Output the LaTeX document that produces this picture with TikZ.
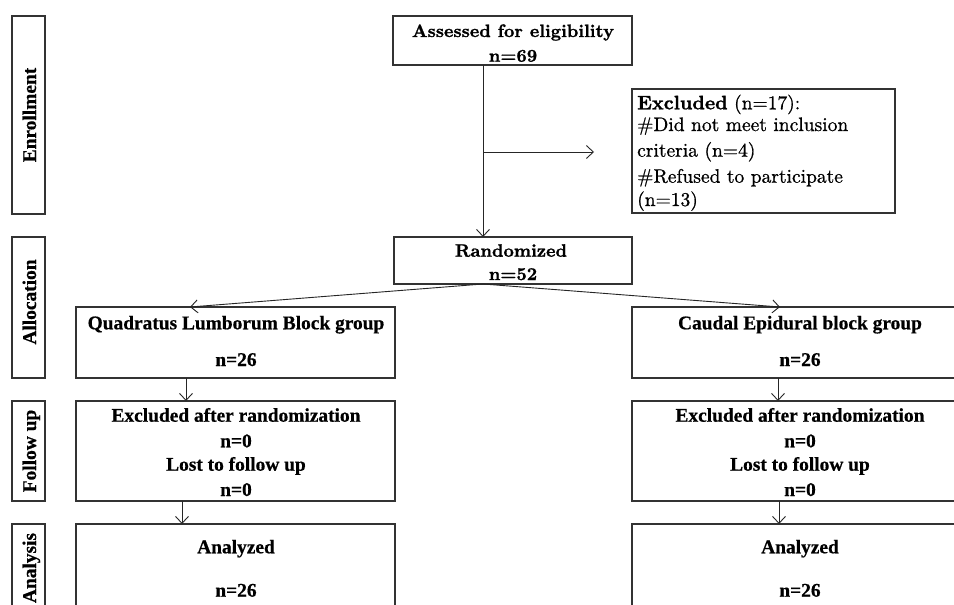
\documentclass[tikz,border=0pt]{standalone}
\usepackage{fontspec}
\newfontfamily\tnr{Liberation Serif}[BoldFeatures={FakeBold=0.6}]
\newfontfamily\lmb{lmroman10-bold}[Extension=.otf,FakeBold=1.2]
\newfontfamily\lmr{lmroman10-regular}[Extension=.otf,FakeBold=0.8,BoldFont=lmroman10-bold,BoldFeatures={FakeBold=1.2}]
\usetikzlibrary{arrows.meta}
\begin{document}
\begin{tikzpicture}[x=1pt,y=-1pt,
 box/.style={draw=black!80, line width=1.2pt, inner sep=0pt, outer sep=0pt, anchor=north west},
 arr/.style={draw=black!85, line width=0.9pt, -{Straight Barb[length=7pt,width=13pt]}},
 tb/.style={font=\tnr\bfseries\fontsize{19.4}{22}\selectfont, inner sep=0pt, anchor=base},
 cb/.style={font=\lmb\fontsize{18}{21}\selectfont, inner sep=0pt, anchor=base},
 cr/.style={font=\lmr\fontsize{19.5}{22}\selectfont, inner sep=0pt, anchor=base west},
 side/.style={tb, rotate=90},
]
\clip (0,0) rectangle (954,605);
\fill[white] (0,0) rectangle (954,605);

% side boxes
\node[box, minimum width=33pt, minimum height=198pt] (enr) at (12,16) {};
\node[box, minimum width=33pt, minimum height=141pt] (alc) at (12,237) {};
\node[box, minimum width=33pt, minimum height=100pt] (fup) at (12,401) {};
\node[box, minimum width=33pt, minimum height=90pt] (ana) at (12,524) {};
\node[side] (tenr) at (36,115) {Enrollment};
\node[side] (talc) at (36,302) {Allocation};
\node[side] (tfup) at (36,451) {Follow up};
\node[side] (tana) at (36,568) {Analysis};

% top boxes
\node[box, minimum width=239pt, minimum height=49pt] (assess) at (393,16) {};
\node[cb] (ta1) at (513,37) {Assessed for eligibility};
\node[cb] (ta2) at (513,61.7) {n=69};

\node[box, minimum width=263pt, minimum height=124pt] (excl) at (632,89) {};
\node[cr] (te1) at (637,109.3) {\textbf{Excluded} (n=17):};
\node[cr] (te2) at (637,131) {\#Did not meet inclusion};
\node[cr] (te3) at (637,156.7) {criteria (n=4)};
\node[cr] (te4) at (637,182.7) {\#Refused to participate};
\node[cr] (te5) at (637,206) {(n=13)};

\node[box, minimum width=238pt, minimum height=47pt] (rand) at (394,237) {};
\node[cb] (tr1) at (511,256.7) {Randomized};
\node[cb] (tr2) at (513,280) {n=52};

% group boxes
\node[box, minimum width=319pt, minimum height=71pt] (ql) at (76,307) {};
\node[box, minimum width=336pt, minimum height=71pt] (ce) at (632,307) {};
\node[box, minimum width=319pt, minimum height=100pt] (fu1) at (76,401) {};
\node[box, minimum width=336pt, minimum height=100pt] (fu2) at (632,401) {};
\node[box, minimum width=319pt, minimum height=100pt] (an1) at (76,524) {};
\node[box, minimum width=336pt, minimum height=100pt] (an2) at (632,524) {};

\foreach \cx/\s in {236/l,800/r}{
 \node[tb] (a1\s) at (\cx,421.7) {Excluded after randomization};
 \node[tb] (a2\s) at (\cx,447.3) {n=0};
 \node[tb] (a3\s) at (\cx,470.7) {Lost to follow up};
 \node[tb] (a4\s) at (\cx,496) {n=0};
 \node[tb] (b1\s) at (\cx,553.3) {Analyzed};
 \node[tb] (b2\s) at (\cx,596.7) {n=26};
 \node[tb] (g2\s) at (\cx,366) {n=26};
}
\node[tb] (g1l) at (236,329.3) {Quadratus Lumborum Block group};
\node[tb] (g1r) at (800,329.3) {Caudal Epidural block group};

% connectors
\coordinate (cx) at (483,0);
\draw[arr] (assess.south -| cx) -- (rand.north -| cx);
\coordinate (brk) at (483,152);
\coordinate (exend) at (594,152);
\draw[arr] (brk) -- (exend);
\coordinate (lq) at (190,0);
\coordinate (rq) at (780,0);
\draw[arr] (rand.south -| cx) -- (ql.north -| lq);
\draw[arr] (rand.south -| cx) -- (ce.north -| rq);
\coordinate (l1) at (186,0);
\coordinate (l2) at (182,0);
\coordinate (r1) at (778,0);
\coordinate (r2) at (779,0);
\draw[arr] (ql.south -| l1) -- (fu1.north -| l1);
\draw[arr] (fu1.south -| l2) -- (an1.north -| l2);
\draw[arr] (ce.south -| r1) -- (fu2.north -| r1);
\draw[arr] (fu2.south -| r2) -- (an2.north -| r2);
\end{tikzpicture}
\end{document}
